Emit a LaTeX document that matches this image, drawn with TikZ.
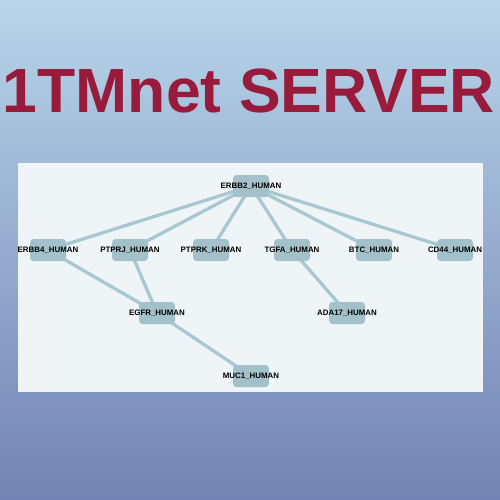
\documentclass[tikz,border=0pt]{standalone}
\usepackage{fontspec}
\setmainfont{Liberation Sans}
\usetikzlibrary{backgrounds}
\definecolor{bgtop}{HTML}{B8D5EA}
\definecolor{bgbot}{HTML}{7383B3}
\definecolor{panel}{HTML}{EFF4F7}
\definecolor{nodefill}{HTML}{A2C1CB}
\definecolor{edgecol}{HTML}{A8C8D1}
\definecolor{titlered}{HTML}{981B3B}
\tikzset{
  protbox/.style={rectangle, rounded corners=3.5pt, fill=nodefill, minimum width=36pt, minimum height=22pt, inner sep=0pt},
  protlbl/.style={font=\fontsize{7.9}{8}\selectfont\bfseries, text=black, inner sep=0pt},
  link/.style={draw=edgecol, line width=3.3pt},
}
\begin{document}
\begin{tikzpicture}[x=1pt,y=-1pt]
\useasboundingbox (0,0) rectangle (500,500);
\node[protbox, label={[protlbl]center:ERBB2\_HUMAN}] (erbb2) at (251,186) {};
\node[protbox, label={[protlbl]center:ERBB4\_HUMAN}] (erbb4) at (48,250) {};
\node[protbox, label={[protlbl]center:PTPRJ\_HUMAN}] (ptprj) at (130,250) {};
\node[protbox, label={[protlbl]center:PTPRK\_HUMAN}] (ptprk) at (211,250) {};
\node[protbox, label={[protlbl]center:TGFA\_HUMAN}] (tgfa) at (292,250) {};
\node[protbox, label={[protlbl]center:BTC\_HUMAN}] (btc) at (374,250) {};
\node[protbox, label={[protlbl]center:CD44\_HUMAN}] (cd44) at (455,250) {};
\node[protbox, label={[protlbl]center:EGFR\_HUMAN}] (egfr) at (157,313) {};
\node[protbox, label={[protlbl]center:ADA17\_HUMAN}] (ada17) at (347,313) {};
\node[protbox, label={[protlbl]center:MUC1\_HUMAN}] (muc1) at (251,376) {};
\node[font=\fontsize{62.5}{62}\selectfont\bfseries, text=titlered, anchor=base, inner sep=0pt] (title) at (249,113) {1TMnet SERVER};
\begin{pgfonlayer}{background}
\shade[top color=bgtop, bottom color=bgbot] (0,0) rectangle (500,500);
\fill[panel] (18,163) rectangle (483,392);
\foreach \t in {erbb4,ptprj,ptprk,tgfa,btc,cd44}
  \draw[link] (erbb2.center) -- (\t.center);
\draw[link] (erbb4.center) -- (egfr.center);
\draw[link] (ptprj.center) -- (egfr.center);
\draw[link] (egfr.center) -- (muc1.center);
\draw[link] (tgfa.center) -- (ada17.center);
\end{pgfonlayer}
\end{tikzpicture}
\end{document}
